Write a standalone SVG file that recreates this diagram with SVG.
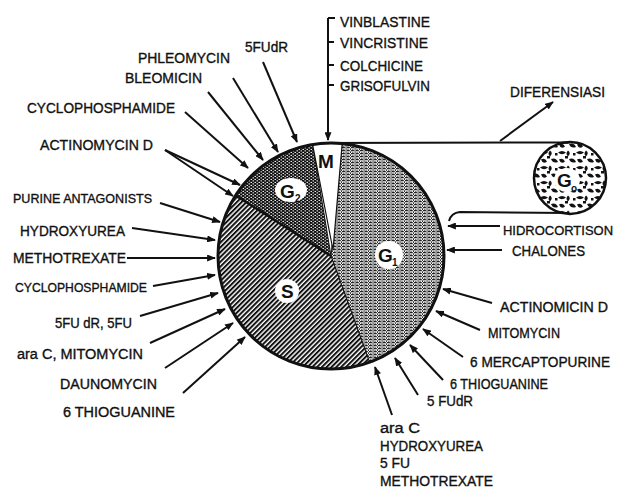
<svg xmlns="http://www.w3.org/2000/svg" width="620" height="489" viewBox="0 0 620 489">
<style>
text{font-family:"Liberation Sans",Arial,sans-serif;font-size:14px;fill:#111;stroke:#111;stroke-width:0.35;}
.sm{font-size:13px;}
.lg{font-size:15px;}
.hc{font-size:13.5px;}
.lab{font-size:19px;font-weight:bold;stroke:none;}
.sub{font-size:10px;font-weight:bold;stroke:none;}
.arr{stroke:#111;stroke-width:2;fill:none;marker-end:url(#ah);}
.ln{stroke:#111;stroke-width:2;fill:none;}
</style>
<defs>
<marker id="ah" viewBox="0 0 10 8" refX="9" refY="4" markerWidth="9" markerHeight="7" orient="auto" markerUnits="userSpaceOnUse"><path d="M0,0 L10,4 L0,8 z" fill="#111"/></marker>
<pattern id="pS" width="3.4" height="3.4" patternUnits="userSpaceOnUse" patternTransform="rotate(45)"><rect width="3.4" height="3.4" fill="#fff"/><rect x="0" y="0" width="2" height="3.4" fill="#111"/></pattern>
<pattern id="pG2" width="4" height="3" patternUnits="userSpaceOnUse"><rect width="4" height="3" fill="#111"/><rect x="0.5" y="0.4" width="1.5" height="1" fill="#fff"/><rect x="2.5" y="1.9" width="1.5" height="1" fill="#fff"/></pattern>
<pattern id="pG1" width="4.5" height="3" patternUnits="userSpaceOnUse"><rect width="4.5" height="3" fill="#fff"/><rect x="0" y="0" width="3.4" height="1.3" fill="#222"/><rect x="3.6" y="1.3" width="0.9" height="1.7" fill="#222"/><rect x="1.2" y="2" width="1" height="1" fill="#222"/></pattern>
<pattern id="pG0" width="18" height="15" patternUnits="userSpaceOnUse"><rect width="18" height="15" fill="#fff"/><path d="M0,2.5 q4,-3 8,0 q-4,3.5 -8,0z M10,0.5 q3.5,2.5 0,6 q-3,-3 0,-6z M11,9 q5,-2 7,3 q-5,2 -7,-3z M1,9.5 q4,-2 6,2 q-4,3.5 -6,-2z M7,6 h3 v2.5 h-3z M15,3 h2.5 v2.5 h-2.5z" fill="#111"/></pattern>
</defs>

<g id="cycle">
<path d="M331,256 L342.2,143.6 A113,113 0 0 1 369.6,362.2 Z" fill="url(#pG1)" stroke="#111" stroke-width="1"/>
<path d="M331,256 L369.6,362.2 A113,113 0 0 1 235.6,195.4 Z" fill="url(#pS)" stroke="#111" stroke-width="1"/>
<path d="M331,256 L235.6,195.4 A113,113 0 0 1 312.6,144.5 Z" fill="url(#pG2)" stroke="#111" stroke-width="1"/>
<path d="M333,250 L312.6,144.5 A113,113 0 0 1 342.2,143.6 Z" fill="#fff" stroke="#111" stroke-width="1.2"/>
<line x1="331" y1="256" x2="235.6" y2="195.4" stroke="#111" stroke-width="2.5"/>
<circle cx="331" cy="256" r="113" fill="none" stroke="#111" stroke-width="3"/>
<text class="lab" x="318" y="168">M</text>
<ellipse cx="291" cy="190" rx="16" ry="12" fill="#fff"/>
<text class="lab" x="280" y="198">G</text><text class="sub" x="295" y="202">2</text>
<circle cx="389" cy="255" r="14" fill="#fff"/>
<text class="lab" x="378" y="262">G</text><text class="sub" x="392" y="266">1</text>
<circle cx="287" cy="291" r="12" fill="#fff"/>
<text class="lab" x="281" y="298">S</text>
</g>

<g id="g0">
<circle cx="570" cy="178" r="36" fill="url(#pG0)" stroke="#111" stroke-width="2.5"/>
<ellipse cx="567" cy="180" rx="13" ry="12" fill="#fff"/>
<text class="lab" x="557" y="187">G</text><text class="sub" x="571" y="192">o</text>
</g>

<g id="connectors">
<line class="ln" x1="320" y1="143" x2="570" y2="142.5"/>
<path class="ln" d="M568,213 L460,212 Q451,213 449,221"/>
<line class="arr" x1="500" y1="141" x2="553" y2="102"/>
<line class="arr" x1="328" y1="18" x2="328" y2="140"/>
<path class="ln" d="M328,18 H335 M328,42 H334 M328,65 H334 M328,85 H334"/>
<line class="arr" x1="263" y1="62" x2="297" y2="142"/>
<line class="arr" x1="233" y1="78" x2="278" y2="152"/>
<line class="arr" x1="208" y1="92" x2="263" y2="160"/>
<line class="arr" x1="185" y1="112" x2="248" y2="168"/>
<line class="arr" x1="165" y1="150" x2="240" y2="185"/>
<line class="arr" x1="165" y1="150" x2="233" y2="196"/>
<line class="arr" x1="160" y1="203" x2="220" y2="222"/>
<line class="arr" x1="132" y1="228" x2="215" y2="240"/>
<line class="arr" x1="127" y1="258" x2="215" y2="258"/>
<line class="arr" x1="153" y1="286" x2="215" y2="275"/>
<line class="arr" x1="140" y1="316" x2="218" y2="293"/>
<line class="arr" x1="150" y1="343" x2="225" y2="309"/>
<line class="arr" x1="165" y1="368" x2="233" y2="323"/>
<line class="arr" x1="183" y1="393" x2="245" y2="337"/>
<line class="arr" x1="500" y1="226" x2="448" y2="226"/>
<line class="arr" x1="502" y1="250" x2="447" y2="250"/>
<line class="arr" x1="492" y1="303" x2="443" y2="289"/>
<line class="arr" x1="480" y1="330" x2="436" y2="311"/>
<line class="arr" x1="463" y1="357" x2="423" y2="329"/>
<line class="arr" x1="443" y1="380" x2="410" y2="345"/>
<line class="arr" x1="418" y1="395" x2="395" y2="358"/>
<line class="arr" x1="392" y1="415" x2="375" y2="367"/>
</g>

<g id="labels">
<text class="lg" x="340" y="27" textLength="90" lengthAdjust="spacingAndGlyphs">VINBLASTINE</text>
<text class="lg" x="340" y="48" textLength="88" lengthAdjust="spacingAndGlyphs">VINCRISTINE</text>
<text class="lg" x="340" y="71" textLength="83" lengthAdjust="spacingAndGlyphs">COLCHICINE</text>
<text class="lg" x="340" y="91" textLength="90" lengthAdjust="spacingAndGlyphs">GRISOFULVIN</text>
<text x="245" y="52" textLength="43" lengthAdjust="spacingAndGlyphs">5FUdR</text>
<text x="138" y="63" textLength="92" lengthAdjust="spacingAndGlyphs">PHLEOMYCIN</text>
<text x="125" y="83" textLength="77" lengthAdjust="spacingAndGlyphs">BLEOMICIN</text>
<text x="27" y="113" textLength="148" lengthAdjust="spacingAndGlyphs">CYCLOPHOSPHAMIDE</text>
<text x="40" y="150" textLength="113" lengthAdjust="spacingAndGlyphs">ACTINOMYCIN D</text>
<text class="sm" x="13" y="203" textLength="139" lengthAdjust="spacingAndGlyphs">PURINE ANTAGONISTS</text>
<text x="20" y="236" textLength="105" lengthAdjust="spacingAndGlyphs">HYDROXYUREA</text>
<text x="13" y="263" textLength="113" lengthAdjust="spacingAndGlyphs">METHOTREXATE</text>
<text class="sm" x="15" y="292" textLength="132" lengthAdjust="spacingAndGlyphs">CYCLOPHOSPHAMIDE</text>
<text x="55" y="328" textLength="77" lengthAdjust="spacingAndGlyphs">5FU dR, 5FU</text>
<text x="17" y="359" textLength="126" lengthAdjust="spacingAndGlyphs">ara C, MITOMYCIN</text>
<text x="60" y="389" textLength="97" lengthAdjust="spacingAndGlyphs">DAUNOMYCIN</text>
<text x="63" y="417" textLength="112" lengthAdjust="spacingAndGlyphs">6 THIOGUANINE</text>
<text x="510" y="97" textLength="95" lengthAdjust="spacingAndGlyphs">DIFERENSIASI</text>
<text class="hc" x="503" y="235" textLength="110" lengthAdjust="spacingAndGlyphs">HIDROCORTISON</text>
<text class="lg" x="512" y="256" textLength="73" lengthAdjust="spacingAndGlyphs">CHALONES</text>
<text x="500" y="312" textLength="108" lengthAdjust="spacingAndGlyphs">ACTINOMICIN D</text>
<text x="488" y="338" textLength="72" lengthAdjust="spacingAndGlyphs">MITOMYCIN</text>
<text x="470" y="367" textLength="140" lengthAdjust="spacingAndGlyphs">6 MERCAPTOPURINE</text>
<text x="450" y="389" textLength="98" lengthAdjust="spacingAndGlyphs">6 THIOGUANINE</text>
<text x="427" y="406" textLength="46" lengthAdjust="spacingAndGlyphs">5 FUdR</text>
<text x="380" y="433" textLength="40" lengthAdjust="spacingAndGlyphs">ara C</text>
<text x="380" y="451" textLength="103" lengthAdjust="spacingAndGlyphs">HYDROXYUREA</text>
<text x="380" y="468" textLength="30" lengthAdjust="spacingAndGlyphs">5 FU</text>
<text x="380" y="486" textLength="113" lengthAdjust="spacingAndGlyphs">METHOTREXATE</text>
</g>
</svg>
